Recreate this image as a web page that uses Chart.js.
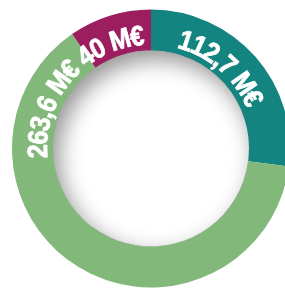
<!DOCTYPE html>
<html>
<head>
<meta charset="utf-8">
<script src="https://cdn.jsdelivr.net/npm/chart.js@4/dist/chart.umd.min.js"></script>
<style>
  html, body { margin: 0; padding: 0; background: #ffffff; overflow: hidden; }
  #wrap { position: relative; width: 292px; height: 288px; }
</style>
</head>
<body>
<div id="wrap"><canvas id="c"></canvas></div>
<script>
const categories = ['Segment A', 'Segment B', 'Segment C'];
const values = [112.7, 263.6, 40];
const unit = ' M€';
const colors = ['#13847f', '#82b87a', '#9d1e60'];

const valueLabels = values.map(v => v.toLocaleString('fr-FR') + unit);

const insetShadow = {
  id: 'insetShadow',
  afterDatasetsDraw(chart) {
    const arc = chart.getDatasetMeta(0).data[0];
    if (!arc) return;
    const { x, y, innerRadius } = arc.getProps(['x', 'y', 'innerRadius'], true);
    const ctx = chart.ctx;
    ctx.save();
    ctx.beginPath();
    ctx.arc(x, y, innerRadius, 0, Math.PI * 2);
    ctx.clip();
    ctx.beginPath();
    ctx.rect(x - 600, y - 600, 1200, 1200);
    ctx.arc(x, y, innerRadius, 0, Math.PI * 2, true);
    ctx.shadowColor = 'rgba(0,0,0,0.42)';
    ctx.shadowBlur = 22;
    ctx.shadowOffsetX = 6;
    ctx.shadowOffsetY = 9;
    ctx.fillStyle = '#888';
    ctx.fill('evenodd');
    ctx.restore();
  }
};

const arcLabels = {
  id: 'arcLabels',
  afterDatasetsDraw(chart, args, opts) {
    const meta = chart.getDatasetMeta(0);
    const ctx = chart.ctx;
    ctx.save();
    ctx.font = opts.font;
    ctx.fillStyle = opts.color;
    ctx.strokeStyle = opts.color;
    ctx.lineWidth = opts.strokeWidth;
    ctx.lineJoin = 'round';
    ctx.textAlign = 'center';
    ctx.textBaseline = 'alphabetic';
    const sx = opts.scaleX;
    meta.data.forEach((el, i) => {
      const p = el.getProps(['x', 'y', 'startAngle', 'endAngle', 'innerRadius', 'outerRadius'], true);
      const text = valueLabels[i];
      const frac = opts.anchor[i];
      const mid = p.startAngle + frac * (p.endAngle - p.startAngle);
      const rBase = p.innerRadius + opts.baselineOffset;
      const rSpace = rBase + opts.spacingOffset;
      const widths = [...text].map(ch => ctx.measureText(ch).width * sx);
      const total = widths.reduce((a, b) => a + b, 0);
      let a = mid - total / 2 / rSpace;
      [...text].forEach((ch, k) => {
        const w = widths[k];
        const ac = a + w / 2 / rSpace;
        ctx.save();
        ctx.translate(p.x + rBase * Math.cos(ac), p.y + rBase * Math.sin(ac));
        ctx.rotate(ac + Math.PI / 2);
        ctx.scale(sx, 1);
        ctx.fillText(ch, 0, 0);
        ctx.strokeText(ch, 0, 0);
        ctx.restore();
        a += w / rSpace;
      });
    });
    ctx.restore();
  }
};

new Chart(document.getElementById('c'), {
  type: 'doughnut',
  data: {
    labels: categories,
    datasets: [{
      data: values,
      backgroundColor: colors,
      borderWidth: 0,
      hoverOffset: 0
    }]
  },
  options: {
    responsive: true,
    maintainAspectRatio: false,
    animation: false,
    events: [],
    cutout: '70.5%',
    rotation: 0,
    layout: { padding: { left: 12, top: 9, right: 2, bottom: 0 } },
    plugins: {
      legend: { display: false },
      tooltip: { enabled: false },
      arcLabels: {
        font: 'bold 28px "Liberation Sans", Arial, sans-serif',
        color: '#ffffff',
        anchor: [0.42, 0.851, 0.39],
        scaleX: 0.9,
        strokeWidth: 0.8,
        baselineOffset: 6,
        spacingOffset: 10
      }
    }
  },
  plugins: [insetShadow, arcLabels]
});
</script>
</body>
</html>
